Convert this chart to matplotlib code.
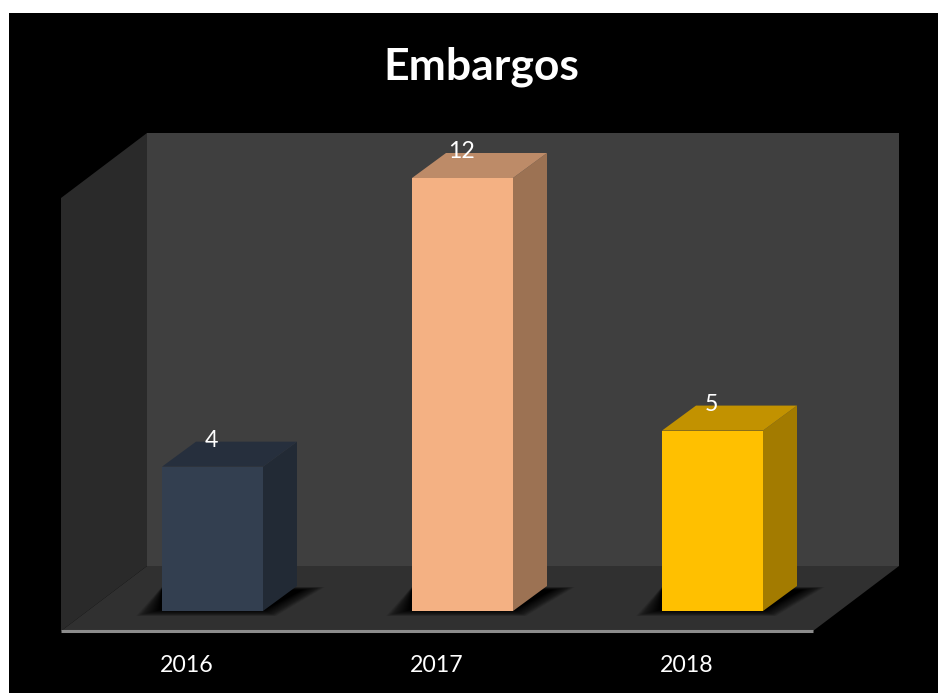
# Embargos per year, fake 3D column chart
import matplotlib
matplotlib.use("Agg")
import matplotlib.pyplot as plt
from matplotlib.patches import Polygon

years = ["2016", "2017", "2018"]
values = [4, 12, 5]
front_colors = ["#333F50", "#F4B183", "#FFC000"]
side_colors = ["#222A35", "#9C7253", "#A37B00"]
top_colors = ["#262F3D", "#BD8B68", "#C29200"]

plt.rcParams["font.family"] = ["Lato", "DejaVu Sans"]

W, H = 938, 693
fig = plt.figure(figsize=(W / 100, H / 100), dpi=100, facecolor="white")
ax = fig.add_axes([9 / W, 0, (W - 9) / W, (H - 13) / H], facecolor="black")
ax.set_xticks([])
ax.set_yticks([])
for s in ax.spines.values():
    s.set_visible(False)

# one category is 250 px wide, one value unit is 36.08 px high
ux, uy = 250, 433 / 12
ax.set_xlim((9 - 212.5) / ux, (W - 212.5) / ux)
ax.set_ylim((611 - H) / uy, (611 - 13) / uy)

bar_w = 101 / ux
dx, dy = 34 / ux, 25 / uy      # depth of a bar
x0, x1 = (61 - 212.5) / ux, (813 - 212.5) / ux   # front edge of the floor
y0 = -20 / uy
wall_top = (611 - 133) / uy
wx, wy = 86 / ux, 65 / uy      # depth of the box


def poly(points, color, z=1, alpha=1):
    ax.add_patch(Polygon(points, closed=True, facecolor=color, edgecolor="none",
                         alpha=alpha, zorder=z))


# walls and floor
poly([(x0 + wx, y0 + wy), (x1 + wx, y0 + wy), (x1 + wx, wall_top), (x0 + wx, wall_top)], "#3F3F3F")
poly([(x0, y0), (x0 + wx, y0 + wy), (x0 + wx, wall_top), (x0, wall_top - wy)], "#2A2A2A")
poly([(x0, y0), (x1, y0), (x1 + wx, y0 + wy), (x0 + wx, y0 + wy)], "#303030")
ax.plot([x0, x1], [y0, y0], color="#8C8C8C", lw=2.2, solid_capstyle="butt", zorder=2)

# soft shadows on the floor
steps = 40
for i in range(len(values)):
    left = i - bar_w / 2
    right = i + bar_w / 2
    for k in range(steps):
        f = (steps - k) / steps
        g = f * 26 / ux
        gy = f * 7 / uy
        poly([(left - g, 2 / uy - gy), (right + g * 0.5, 2 / uy - gy),
              (right + dx + 2 / ux + g, dy * 0.82 + gy * 0.5), (left, dy * 0.82 + gy * 0.5)],
             "black", z=3, alpha=0.035)

# bars
ax.bar(range(len(values)), values, width=bar_w, color=front_colors, zorder=5)
for i, v in enumerate(values):
    left = i - bar_w / 2
    right = i + bar_w / 2
    poly([(right, 0), (right + dx, dy), (right + dx, v + dy), (right, v)], side_colors[i], z=5)
    poly([(left, v), (right, v), (right + dx, v + dy), (left + dx, v + dy)], top_colors[i], z=5)
    ax.text(i - 1.5 / ux, v + 26.5 / uy, str(v), color="white", fontsize=16.7,
            ha="center", va="center", zorder=6)
    ax.text(i - 26 / ux, -55 / uy, years[i], color="white", fontsize=16.7,
            ha="center", va="center", zorder=6)

ax.text((481 - 212.5) / ux, (611 - 67) / uy, "Embargos", color="white", fontsize=32,
        fontweight="bold", ha="center", va="center", zorder=6)

fig.savefig("out.png", dpi=100, facecolor="white")
